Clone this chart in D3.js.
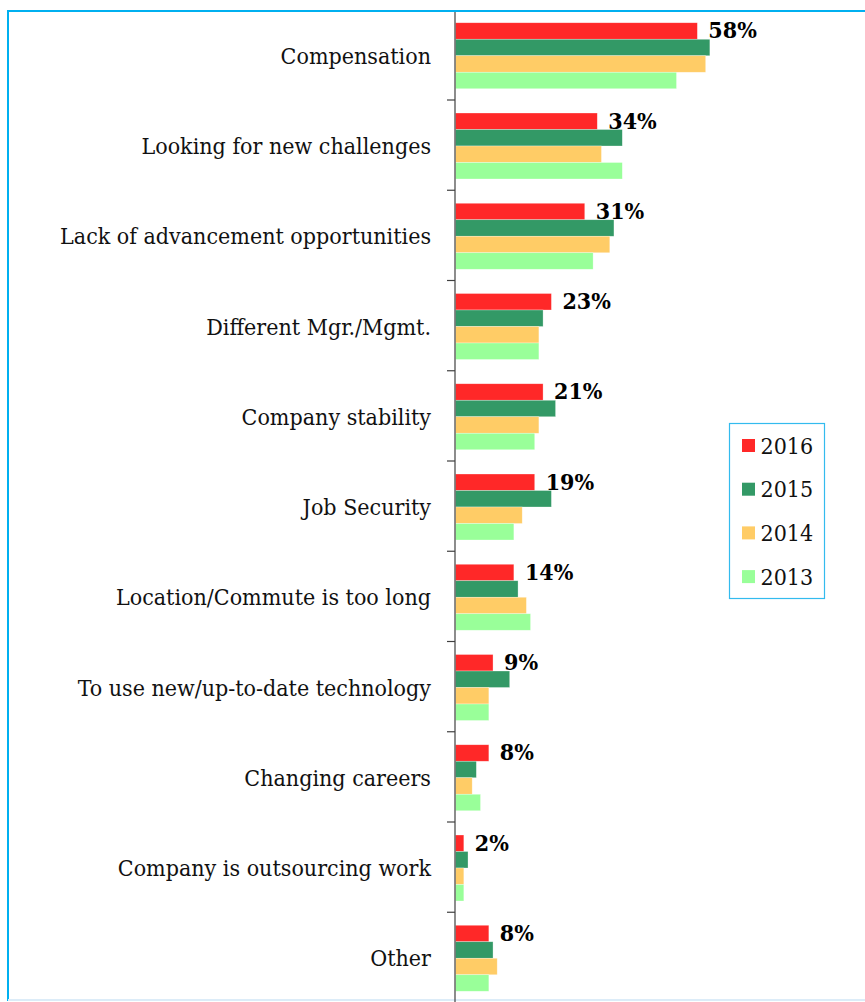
<!DOCTYPE html>
<html><head><meta charset="utf-8">
<script src="https://cdn.jsdelivr.net/npm/d3@7"></script>
<style>body{margin:0;background:#fff}svg{display:block}</style>
</head><body>
<script>
const categories = ["Compensation","Looking for new challenges","Lack of advancement opportunities","Different Mgr./Mgmt.","Company stability","Job Security","Location/Commute is too long","To use new/up-to-date technology","Changing careers","Company is outsourcing work","Other"];
const seriesNames = ["2016","2015","2014","2013"];
const values2016 = [58,34,31,23,21,19,14,9,8,2,8];
const values2015 = [61,40,38,21,24,23,15,13,5,3,9];
const values2014 = [60,35,37,20,20,16,17,8,4,2,10];
const values2013 = [53,40,33,20,19,14,18,8,6,2,8];
const valueLabels = ["58%","34%","31%","23%","21%","19%","14%","9%","8%","2%","8%"];
const colors = ["#ff2828","#339966","#ffcc66","#99ff99"];

const FONT = "'DejaVu Serif Condensed', 'DejaVu Serif', serif";
const W = 865, H = 1002;
const svg = d3.select("body").append("svg").attr("width", W).attr("height", H);
const series = [values2016, values2015, values2014, values2013];

// outer frame
svg.append("rect").attr("x", 8).attr("y", 11).attr("width", 870).attr("height", 989)
  .attr("fill", "none").attr("stroke", "#00b0f0").attr("stroke-width", 2);
svg.append("line").attr("x1", 8).attr("x2", 870).attr("y1", 1000).attr("y2", 1000)
  .attr("stroke", "#dcecf8").attr("stroke-width", 2);

const x = d3.scaleLinear().domain([0, 100]).range([455.5, 872.5]);
const y = d3.scaleBand().domain(categories).range([9.75, 1002.5]).paddingInner(0).paddingOuter(0);
const y1 = d3.scaleBand().domain(seriesNames).range([13, 79]);

const g = svg.append("g");
categories.forEach((c, i) => {
  const grp = g.append("g").attr("transform", `translate(0,${y(c)})`);
  seriesNames.forEach((s, j) => {
    grp.append("rect")
      .attr("x", x(0)).attr("y", y1(s))
      .attr("width", x(series[j][i]) - x(0)).attr("height", y1.bandwidth())
      .attr("fill", colors[j]).attr("stroke", "#ffffff").attr("stroke-opacity", 0.5).attr("stroke-width", 0.6);
  });
  grp.append("text")
    .attr("x", x(values2016[i]) + 11)
    .attr("y", y1("2016") + y1.bandwidth() - 1)
    .attr("font-family", FONT).attr("font-weight", "bold")
    .attr("font-size", 23).attr("fill", "#000")
    .text(valueLabels[i]);
});

// category axis
const axis = d3.axisLeft(y).tickSize(0).tickPadding(24);
const ax = svg.append("g").attr("transform", `translate(${x(0) - 0.5},0)`).call(axis);
ax.select(".domain").remove();
ax.selectAll("text").attr("font-family", FONT).attr("font-size", 23)
  .attr("dy", "0.39em").attr("fill", "#111");
// boundary ticks
const bounds = categories.slice(1).map(c => y(c));
svg.selectAll(".btick").data(bounds).enter().append("line")
  .attr("x1", x(0) - 8.5).attr("x2", x(0) - 0.5).attr("y1", d => d).attr("y2", d => d)
  .attr("stroke", "#404040").attr("stroke-width", 1.2);
svg.append("line").attr("x1", x(0) - 0.5).attr("x2", x(0) - 0.5).attr("y1", 12).attr("y2", H)
  .attr("stroke", "#404040").attr("stroke-width", 1.2);

// legend
const lg = svg.append("g").attr("transform", "translate(729.5,423.5)");
lg.append("rect").attr("width", 95).attr("height", 175).attr("fill", "#fff")
  .attr("stroke", "#33bbee").attr("stroke-width", 1.2);
seriesNames.forEach((s, j) => {
  const row = lg.append("g").attr("transform", `translate(0,${22 + j * 43.7})`);
  row.append("rect").attr("x", 12.5).attr("y", -6.5).attr("width", 13).attr("height", 13).attr("fill", colors[j]);
  row.append("text").attr("x", 31).attr("y", 8).attr("font-family", FONT)
    .attr("font-size", 23).attr("fill", "#111").text(s);
});
</script>
</body></html>
